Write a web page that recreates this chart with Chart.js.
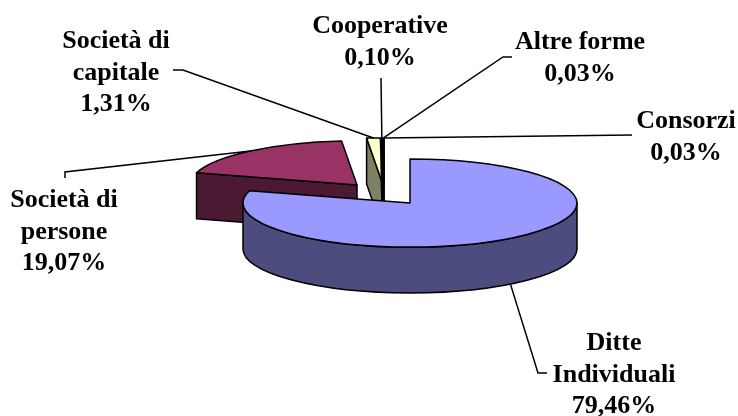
<!DOCTYPE html>
<html>
<head>
<meta charset="utf-8">
<script src="https://cdn.jsdelivr.net/npm/chart.js@4.4.0/dist/chart.umd.min.js"></script>
<style>
  html, body { margin: 0; padding: 0; background: #fff; }
</style>
</head>
<body>
<canvas id="pieChart" width="738" height="416"></canvas>
<script>
// Imprese per forma giuridica (%)
const categories = ['Ditte Individuali', 'Società di persone', 'Società di capitale', 'Cooperative', 'Altre forme', 'Consorzi'];
const shares = [79.46, 19.07, 1.31, 0.10, 0.03, 0.03];
const colors = ['#9999FF', '#993366', '#FFFFCC', '#CCFFFF', '#660066', '#FF8080'];

// pull-out of the slices (px) and where the labels sit
const shiftX = [0, -53, -28, -27, -26, -26];
const shiftY = [0, -18, -21, -21, -21, -21];
const labelPos = [[614, 350], [64, 207], [116, 48], [380, 33], [580, 49], [686, 128]];
const leaderPts = [
    [[547, 373], [538, 373]],
    [[65, 178], [65, 172]],
    [[173, 70], [183, 70]],
    [[381, 78]],
    [[512, 57], [503, 57]],
    [[632, 135]]
];

const TILT = 0.264;   // ellipse height / width
const DEPTH = 0.275;  // thickness / radius
const LINE_H = 31.5;

function darker(hex) {
    const n = parseInt(hex.slice(1), 16);
    const r = (n >> 16) >> 1, g = ((n >> 8) & 255) >> 1, b = (n & 255) >> 1;
    return 'rgb(' + r + ',' + g + ',' + b + ')';
}

function pct(v) {
    return v.toFixed(2).replace('.', ',') + '%';
}

function wrap(ctx, text, maxW) {
    const words = text.split(' ');
    const lines = [];
    let cur = '';
    words.forEach(w => {
        const test = cur ? cur + ' ' + w : w;
        if (cur && ctx.measureText(test).width > maxW) {
            lines.push(cur);
            cur = w;
        } else {
            cur = test;
        }
    });
    lines.push(cur);
    return lines;
}

// draws the pie as a tilted 3D disc from the arc geometry of Chart.js
const pie3d = {
    id: 'pie3d',
    beforeDatasetsDraw(chart) {
        const ctx = chart.ctx;
        const arcs = chart.getDatasetMeta(0).data;
        const slices = arcs.map((a, i) => {
            const p = a.getProps(['x', 'y', 'startAngle', 'endAngle', 'outerRadius'], true);
            const rx = p.outerRadius;
            return {
                i: i, vx: p.x + shiftX[i], vy: p.y + shiftY[i],
                rx: rx, ry: rx * TILT, d: rx * DEPTH,
                a0: p.startAngle, a1: p.endAngle
            };
        });
        chart.$slices = slices;

        const order = slices.slice().sort((a, b) => a.vy - b.vy);
        ctx.save();
        ctx.lineWidth = 1.5;
        ctx.strokeStyle = '#000';
        ctx.lineJoin = 'round';
        order.forEach(s => {
            const side = darker(colors[s.i]);
            const rim = t => [s.vx + s.rx * Math.cos(t), s.vy + s.ry * Math.sin(t)];

            // cut faces
            [[s.a0, Math.cos(s.a0) < -1e-6], [s.a1, Math.cos(s.a1) > 1e-6]].forEach(f => {
                if (!f[1]) return;
                const q = rim(f[0]);
                ctx.beginPath();
                ctx.moveTo(s.vx, s.vy);
                ctx.lineTo(q[0], q[1]);
                ctx.lineTo(q[0], q[1] + s.d);
                ctx.lineTo(s.vx, s.vy + s.d);
                ctx.closePath();
                ctx.fillStyle = side;
                ctx.fill();
                ctx.stroke();
            });

            // outer wall (front half only)
            const b0 = Math.max(s.a0, 0), b1 = Math.min(s.a1, Math.PI);
            if (b1 > b0) {
                ctx.beginPath();
                ctx.ellipse(s.vx, s.vy, s.rx, s.ry, 0, b0, b1);
                ctx.ellipse(s.vx, s.vy + s.d, s.rx, s.ry, 0, b1, b0, true);
                ctx.closePath();
                ctx.fillStyle = side;
                ctx.fill();
                ctx.stroke();
            }

            // top face
            ctx.beginPath();
            ctx.moveTo(s.vx, s.vy);
            ctx.ellipse(s.vx, s.vy, s.rx, s.ry, 0, s.a0, s.a1);
            ctx.closePath();
            ctx.fillStyle = colors[s.i];
            ctx.fill();
            ctx.stroke();
        });
        ctx.restore();
        return false;
    },
    afterDraw(chart) {
        const ctx = chart.ctx;
        const slices = chart.$slices || [];
        ctx.save();
        ctx.font = 'bold 26px "Liberation Serif", "Times New Roman", serif';
        ctx.textAlign = 'center';
        ctx.textBaseline = 'alphabetic';
        ctx.fillStyle = '#000';
        ctx.strokeStyle = '#000';
        ctx.lineWidth = 1.5;
        slices.forEach(s => {
            const lines = wrap(ctx, categories[s.i], 135).concat(pct(shares[s.i]));
            const lp = labelPos[s.i];
            lines.forEach((t, k) => ctx.fillText(t, lp[0], lp[1] + k * LINE_H));

            const m = (s.a0 + s.a1) / 2;
            const ax = s.vx + s.rx * Math.cos(m);
            let ay = s.vy + s.ry * Math.sin(m);
            if (Math.sin(m) > 0) ay += s.d;
            ctx.beginPath();
            leaderPts[s.i].forEach((p, k) => k ? ctx.lineTo(p[0], p[1]) : ctx.moveTo(p[0], p[1]));
            ctx.lineTo(ax, ay);
            ctx.stroke();
        });
        ctx.restore();
    }
};

const pieChart = new Chart(document.getElementById('pieChart'), {
    type: 'pie',
    data: {
        labels: categories,
        datasets: [{
            data: shares,
            backgroundColor: colors,
            borderWidth: 0,
            hoverOffset: 0
        }]
    },
    options: {
        responsive: false,
        animation: false,
        events: [],
        layout: { padding: { left: 243, right: 161, top: 36, bottom: 46 } },
        plugins: {
            legend: { display: false },
            tooltip: { enabled: false }
        }
    },
    plugins: [pie3d]
});
</script>
</body>
</html>
